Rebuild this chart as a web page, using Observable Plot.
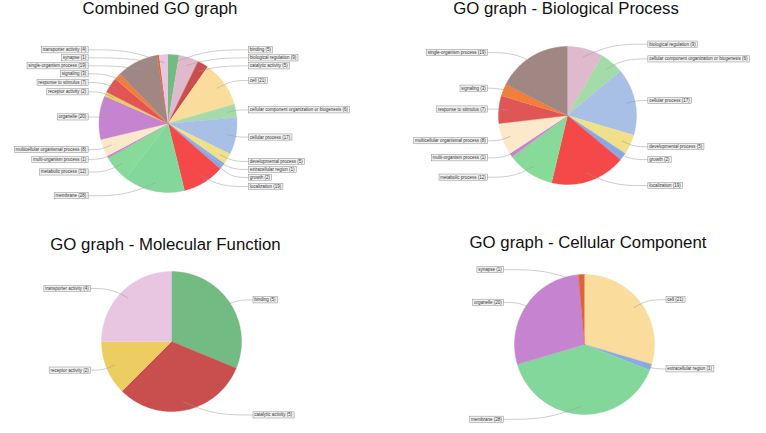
<!DOCTYPE html>
<html><head><meta charset="utf-8">
<script src="https://cdn.jsdelivr.net/npm/d3@7"></script>
<script src="https://cdn.jsdelivr.net/npm/@observablehq/plot@0.6"></script>
<style>
body{margin:0;background:#fff;}
#wrap{position:relative;width:766px;height:433px;overflow:hidden;font-family:"Liberation Sans",Arial,sans-serif;background:#fff;}
.title{position:absolute;font-size:16.8px;line-height:1;color:#111;white-space:nowrap;transform:translateX(-50%);}
.panel{position:absolute;left:0;top:0;}
</style></head><body><div id="wrap"></div>
<script>
// ---- data ----
const allCategories = ["binding","biological regulation","catalytic activity","cell","cellular component organization or biogenesis","cellular process","developmental process","extracellular region","growth","localization","membrane","metabolic process","multi-organism process","multicellular organismal process","organelle","receptor activity","response to stimulus","signaling","single-organism process","synapse","transporter activity"];
const combinedCounts = [5,9,5,21,6,17,5,1,2,19,28,12,1,8,20,2,7,3,19,1,4];
const bpCategories = ["biological regulation","cellular component organization or biogenesis","cellular process","developmental process","growth","localization","metabolic process","multi-organism process","multicellular organismal process","response to stimulus","signaling","single-organism process"];
const bpCounts = [9,6,17,5,2,19,12,1,8,7,3,19];
const mfCategories = ["binding","catalytic activity","receptor activity","transporter activity"];
const mfCounts = [5,5,2,4];
const ccCategories = ["cell","extracellular region","membrane","organelle","synapse"];
const ccCounts = [21,1,28,20,1];
const panelTitles = ["Combined GO graph","GO graph - Biological Process","GO graph - Molecular Function","GO graph - Cellular Component"];
const categoryColors = ["#72bb82","#dfbacd","#c94e4e","#fadd9c","#a5dba8","#a8c0e6","#f0e08a","#8aaae6","#88a8e8","#f54848","#84d79b","#87da98","#cc7fd6","#fbe9c9","#c683d0","#ebcd60","#e05555","#f57d3a","#a08784","#e0623a","#e8c6e2"];

// ---- layout ----
const layout = [
  {cats: allCategories, counts: combinedCounts, cx: 167.5, cy: 123, r: 69, tx: 160, ty: 1.4},
  {cats: bpCategories, counts: bpCounts, cx: 567, cy: 115, r: 69, tx: 566, ty: 1.4},
  {cats: mfCategories, counts: mfCounts, cx: 171, cy: 341, r: 70, tx: 165.5, ty: 237.1},
  {cats: ccCategories, counts: ccCounts, cx: 584, cy: 344, r: 70, tx: 588, ty: 234.6}
];
const wrap = document.getElementById("wrap");
const FONT = "Liberation Sans, Arial, sans-serif";

layout.forEach((cfg, pi) => {
  const {cats, counts, cx, cy, r} = cfg;
  const rows = cats.map((c, i) => ({cat: c, n: counts[i]}));
  const arcs = d3.pie().sort(null).value(d => d.n)(rows);
  const slicePts = [];
  arcs.forEach(a => {
    slicePts.push({cat: a.data.cat, x: 0, y: 0});
    const steps = Math.max(2, Math.ceil((a.endAngle - a.startAngle) / (Math.PI / 180)));
    for (let k = 0; k <= steps; k++) {
      const t = a.startAngle + (a.endAngle - a.startAngle) * k / steps;
      slicePts.push({cat: a.data.cat, x: Math.sin(t), y: Math.cos(t)});
    }
  });
  const labs = arcs.map(a => {
    const m = (a.startAngle + a.endAngle) / 2;
    return {cat: a.data.cat, m, side: m < Math.PI ? 1 : -1, y: Math.cos(m) * 1.07, text: `${a.data.cat} (${a.data.n})`};
  });
  const gap = 8 / r;
  [1, -1].forEach(s => {
    const side = labs.filter(l => l.side === s).sort((a, b) => b.y - a.y);
    for (let i = 1; i < side.length; i++) side[i].y = Math.min(side[i].y, side[i - 1].y - gap);
  });
  const LX = 1.16;
  const leaders = [];
  labs.forEach(l => {
    const ix = 0.88 * Math.sin(l.m), iy = 0.88 * Math.cos(l.m);
    const lx = l.side * LX;
    leaders.push({cat: l.cat, x: ix, y: iy});
    leaders.push({cat: l.cat, x: ix + (lx - ix) * 0.45, y: l.y});
    leaders.push({cat: l.cat, x: lx, y: l.y});
    l.tx = l.side * (LX + 1.6 / r);
  });
  const svg = Plot.plot({
    width: 766, height: 433, margin: 0,
    style: {background: "transparent", overflow: "visible"},
    x: {domain: [-1, 1], range: [cx - r, cx + r], axis: null},
    y: {domain: [-1, 1], range: [cy + r, cy - r], axis: null},
    color: {domain: allCategories, range: categoryColors},
    marks: [
      Plot.line(slicePts, {x: "x", y: "y", z: "cat", fill: "cat", stroke: "cat", strokeWidth: 0.4}),
      Plot.line(leaders, {x: "x", y: "y", z: "cat", stroke: "#9a9a9a", strokeWidth: 0.5, curve: "basis"}),
      Plot.text(labs.filter(l => l.side === 1), {x: "tx", y: "y", text: "text", textAnchor: "start", fontSize: 4.5, fill: "#333", fontFamily: FONT}),
      Plot.text(labs.filter(l => l.side === -1), {x: "tx", y: "y", text: "text", textAnchor: "end", fontSize: 4.5, fill: "#333", fontFamily: FONT})
    ]
  });
  svg.classList.add("panel");
  svg.style.position = "absolute"; svg.style.left = "0px"; svg.style.top = "0px";
  wrap.appendChild(svg);
  svg.querySelectorAll('g[aria-label="text"] text').forEach(t => {
    const b = t.getBBox();
    const rect = document.createElementNS("http://www.w3.org/2000/svg", "rect");
    rect.setAttribute("x", b.x - 1.3);
    rect.setAttribute("y", b.y - 0.6);
    rect.setAttribute("width", b.width + 2.6);
    rect.setAttribute("height", b.height + 1.2);
    rect.setAttribute("fill", "#f2f2f2");
    rect.setAttribute("stroke", "#8c8c8c");
    rect.setAttribute("stroke-width", "0.5");
    if (t.getAttribute("transform")) rect.setAttribute("transform", t.getAttribute("transform"));
    t.parentNode.insertBefore(rect, t);
  });
  const title = document.createElement("div");
  title.className = "title";
  title.textContent = panelTitles[pi];
  title.style.left = cfg.tx + "px";
  title.style.top = cfg.ty + "px";
  wrap.appendChild(title);
});
</script></body></html>
